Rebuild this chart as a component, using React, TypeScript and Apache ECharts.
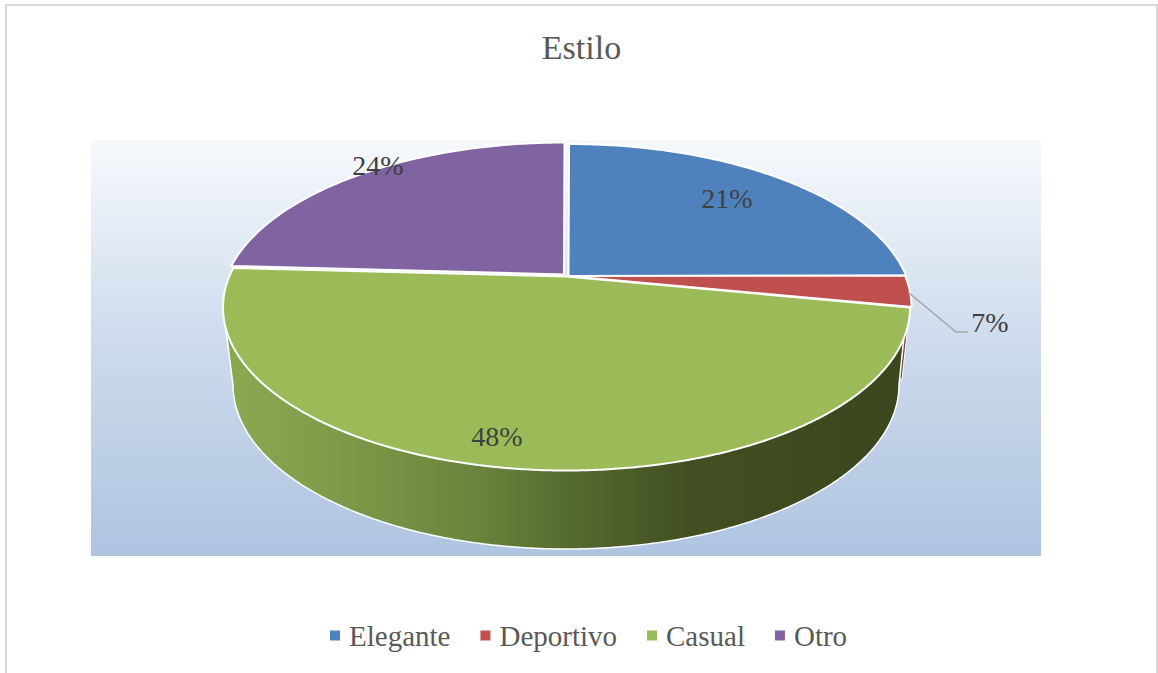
import React, { useEffect, useRef } from "react";
import * as echarts from "echarts";

const titleText = "Estilo";
const categories = ["Elegante", "Deportivo", "Casual", "Otro"];
// Printed percentages in the picture
const percentLabels = ["21%", "7%", "48%", "24%"];
// Share of the ellipse that each slice visibly takes (perspective-drawn, % of rim)
const drawnShares = [21.9, 3.1, 53.9, 21.1];
const colors = ["#4F81BD", "#C0504D", "#9BBB59", "#8064A2"];

const FONT = "'Liberation Serif', 'Times New Roman', serif";
const apex = { x: 566, y: 276 };
const top = { cx: 566.5, cy: 307, rx: 343.5, ry: 163 };
const bottom = { cx: 566, cy: 385, rx: 333, ry: 164 };
const labelPos = [
  [727, 198],
  [990, 322],
  [497, 436],
  [378, 165],
];
const explode = [
  [2.5, 0],
  [1.5, 0],
  [0, 0.5],
  [-2, -1.5],
];

const rad = (share: number) => (share / 100) * Math.PI * 2;
const rim = (e: typeof top, t: number) => [e.cx + e.rx * Math.sin(t), e.cy - e.ry * Math.cos(t)];
const arc = (e: typeof top, a: number, b: number) => {
  const n = Math.max(2, Math.ceil(Math.abs(b - a) / 0.01));
  const pts: number[][] = [];
  for (let i = 0; i <= n; i++) pts.push(rim(e, a + ((b - a) * i) / n));
  return pts;
};

const wallGradient = () =>
  new echarts.graphic.LinearGradient(0, 0, 1, 0, [
    { offset: 0, color: "#8CA952" },
    { offset: 0.15, color: "#7F9C4A" },
    { offset: 0.35, color: "#6C873E" },
    { offset: 0.5, color: "#566B30" },
    { offset: 0.68, color: "#414F22" },
    { offset: 1, color: "#3A471E" },
  ]);

function makeRender(index: number) {
  return (_params: any, api: any) => {
    const value = api.value(0);
    const before = drawnShares.slice(0, index).reduce((s, v) => s + v, 0);
    const a = rad(before);
    const b = rad(before + value);
    const children: any[] = [];

    if (categories[index] === "Deportivo") {
      const p = rim(bottom, b);
      const q = rim(top, b);
      children.push({
        type: "polygon",
        shape: { points: [q, [p[0] + 3, p[1] - 6], [p[0], p[1] - 6], [q[0] - 4, q[1] + 2]] },
        style: { fill: "#7A4A48", stroke: "#FFFFFF", lineWidth: 1 },
      });
    }
    if (categories[index] === "Casual") {
      const wallEnd = Math.min(b, rad(75));
      const topArc = arc(top, a, wallEnd);
      const bottomArc = arc(bottom, wallEnd, a);
      // the right edge sits a little inside, leaving the red sliver visible
      topArc[0] = [topArc[0][0] - 3, topArc[0][1]];
      children.push({
        type: "polygon",
        shape: { points: [...topArc, ...bottomArc] },
        style: { fill: wallGradient(), stroke: "#FFFFFF", lineWidth: 1.5 },
      });
    }

    children.push({
      type: "polygon",
      x: explode[index][0],
      y: explode[index][1],
      shape: { points: [[apex.x, apex.y], ...arc(top, a, b)] },
      style: { fill: colors[index], stroke: "#FFFFFF", lineWidth: 2 },
    });

    if (categories[index] === "Deportivo") {
      children.push({
        type: "polyline",
        shape: { points: [[908, 292], [956, 332], [968, 332]] },
        style: { fill: "none", stroke: "#A6A6A6", lineWidth: 1.5 },
      });
    }
    children.push({
      type: "text",
      x: labelPos[index][0],
      y: labelPos[index][1],
      z2: 10,
      style: {
        text: percentLabels[index],
        font: `28px ${FONT}`,
        fill: "#404040",
        align: "center",
        verticalAlign: "middle",
      },
    });
    return { type: "group", children };
  };
}

export default function App() {
  const ref = useRef<HTMLDivElement>(null);
  useEffect(() => {
    const chart = echarts.init(ref.current!, undefined, { renderer: "svg" });
    chart.setOption({
      animation: false,
      backgroundColor: "#FFFFFF",
      title: {
        text: titleText,
        left: 576.5,
        textAlign: "center",
        top: 25,
        textStyle: { fontFamily: FONT, fontSize: 34, fontWeight: "normal", color: "#595959" },
      },
      legend: {
        data: categories,
        left: 325,
        top: 616,
        icon: "rect",
        itemWidth: 10,
        itemHeight: 10,
        itemGap: 30,
        selectedMode: false,
        textStyle: { fontFamily: FONT, fontSize: 29, color: "#595959", padding: [0, 0, 0, 4] },
      },
      graphic: [
        {
          type: "rect",
          z: -20,
          silent: true,
          shape: { x: 6, y: 5, width: 1151, height: 700 },
          style: { fill: "#FFFFFF", stroke: "#D9D9D9", lineWidth: 2 },
        },
        {
          type: "rect",
          z: -10,
          silent: true,
          shape: { x: 91, y: 140, width: 950, height: 416 },
          style: {
            fill: new echarts.graphic.LinearGradient(0, 0, 0, 1, [
              { offset: 0, color: "#F6F9FC" },
              { offset: 0.5, color: "#CCDAEC" },
              { offset: 1, color: "#AEC4E0" },
            ]),
          },
        },
      ],
      series: categories.map((name, i) => ({
        type: "custom",
        name,
        coordinateSystem: "none",
        silent: true,
        itemStyle: { color: colors[i] },
        data: [[drawnShares[i]]],
        encode: { value: 0 },
        renderItem: makeRender(i),
      })),
    });
    return () => chart.dispose();
  }, []);
  return <div ref={ref} style={{ position: "fixed", left: 0, top: 0, width: 1158, height: 673 }} />;
}
